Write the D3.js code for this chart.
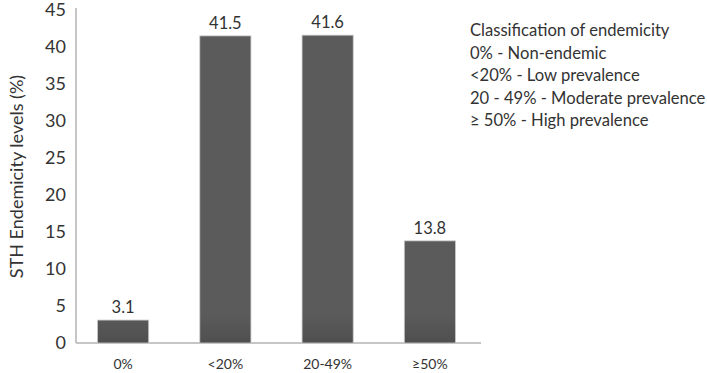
<!DOCTYPE html>
<html>
<head>
<meta charset="utf-8">
<script src="https://cdn.jsdelivr.net/npm/d3@7"></script>
<style>
  body { margin: 0; background: #fff; }
  text { font-family: Lato, "Open Sans", sans-serif; fill: #333; }
</style>
</head>
<body>
<div id="chart"></div>
<script>
'use strict';

var categories = ['0%', '<20%', '20-49%', '≥50%'],
    values = [3.1, 41.5, 41.6, 13.8],
    yTicks = [0, 5, 10, 15, 20, 25, 30, 35, 40, 45],
    legendLines = [
        'Classification of endemicity',
        '0% - Non-endemic',
        '<20% - Low prevalence',
        '20 - 49% - Moderate prevalence',
        '≥ 50% - High prevalence'
    ];

var width = 707,
    height = 373,
    margin = { top: 10, left: 76, right: 226, bottom: 30 };

var svg = d3.select('#chart').append('svg')
    .attr('width', width)
    .attr('height', height);

var x = d3.scaleBand()
    .domain(categories)
    .range([72, width - margin.right])
    .paddingInner(0.5)
    .paddingOuter(0.25);

var y = d3.scaleLinear()
    .domain([0, 45])
    .range([height - margin.bottom, margin.top]);

//Bar fill: slightly darker toward the baseline
var defs = svg.append('defs');
var grad = defs.append('linearGradient')
    .attr('id', 'barFill')
    .attr('gradientUnits', 'userSpaceOnUse')
    .attr('x1', 0).attr('x2', 0)
    .attr('y1', y(4)).attr('y2', y(0));
grad.append('stop').attr('offset', '0%').attr('stop-color', '#5b5b5b');
grad.append('stop').attr('offset', '100%').attr('stop-color', '#4f4f4f');

//Axes lines
svg.append('line')
    .attr('x1', margin.left).attr('x2', margin.left)
    .attr('y1', y(45) - 2).attr('y2', y(0))
    .attr('stroke', '#b3b3b3').attr('stroke-width', 1.5);

svg.append('line')
    .attr('x1', margin.left).attr('x2', x.range()[1])
    .attr('y1', y(0)).attr('y2', y(0))
    .attr('stroke', '#b3b3b3').attr('stroke-width', 1.5);

//Y tick labels
var yAxis = d3.axisLeft(y).tickValues(yTicks).tickSize(0).tickPadding(10);
var gy = svg.append('g')
    .attr('transform', 'translate(' + margin.left + ',0)')
    .call(yAxis);
gy.select('.domain').remove();
gy.selectAll('text')
    .style('font-family', 'Lato, "Open Sans", sans-serif')
    .style('font-size', '18px')
    .attr('fill', '#333');

//X category labels
var xAxis = d3.axisBottom(x).tickSize(0).tickPadding(16);
var gx = svg.append('g')
    .attr('transform', 'translate(0,' + y(0) + ')')
    .call(xAxis);
gx.select('.domain').remove();
gx.selectAll('text')
    .style('font-family', 'Lato, "Open Sans", sans-serif')
    .style('font-size', '14px')
    .attr('fill', '#333');

//Y axis title
svg.append('text')
    .attr('transform', 'translate(23,' + ((y(45) + y(0)) / 2) + ') rotate(-90)')
    .attr('text-anchor', 'middle')
    .style('font-size', '18px')
    .text('STH Endemicity levels (%)');

//Bars
svg.append('g').selectAll('rect')
    .data(values)
    .enter().append('rect')
    .attr('x', (d, i) => x(categories[i]))
    .attr('width', x.bandwidth())
    .attr('y', d => y(d))
    .attr('height', d => y(0) - y(d))
    .attr('fill', 'url(#barFill)')
    .attr('stroke', '#c8c8c8')
    .attr('stroke-width', 0.8);

//Value labels
svg.append('g').selectAll('text')
    .data(values)
    .enter().append('text')
    .attr('x', (d, i) => x(categories[i]) + x.bandwidth() / 2)
    .attr('y', d => y(d) - 7)
    .attr('text-anchor', 'middle')
    .style('font-size', '16.5px')
    .text(d => d.toFixed(1));

//Legend text
svg.append('g').selectAll('text')
    .data(legendLines)
    .enter().append('text')
    .attr('x', 470)
    .attr('y', (d, i) => 36 + i * 22.5)
    .style('font-size', '16.6px')
    .text(d => d);
</script>
</body>
</html>
